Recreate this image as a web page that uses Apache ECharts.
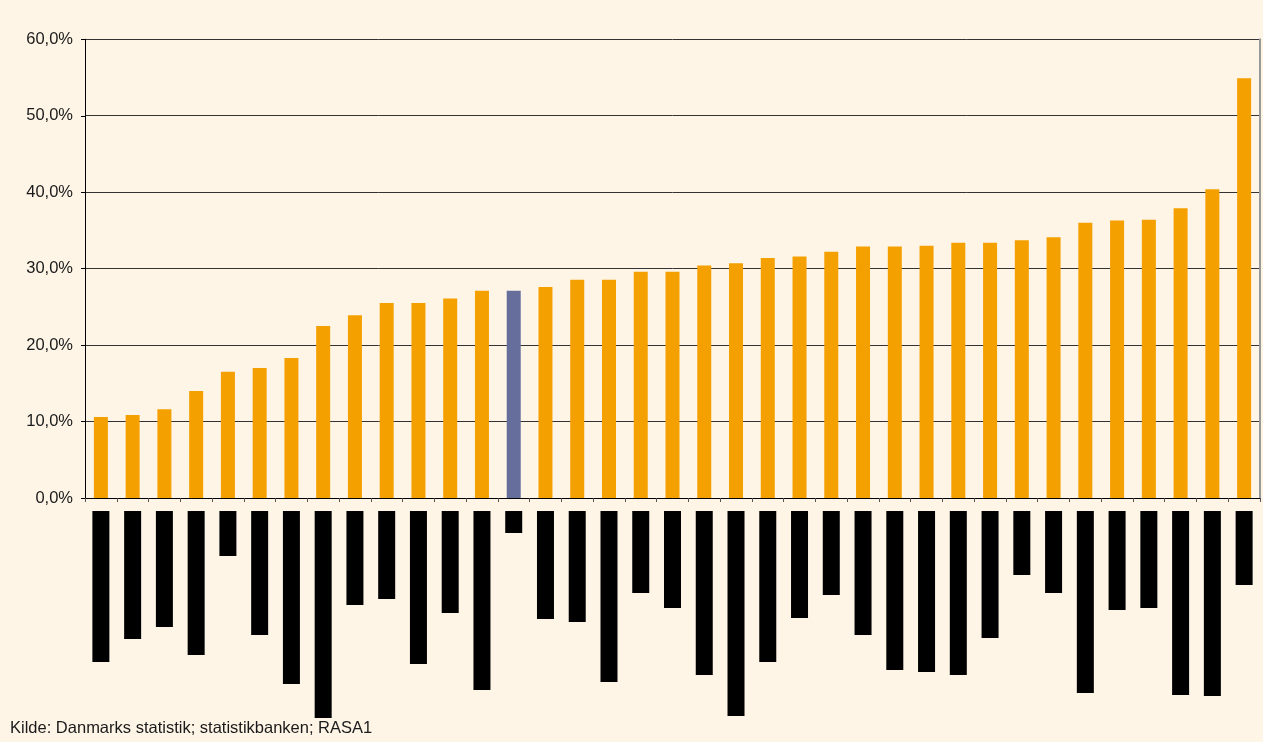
<!DOCTYPE html>
<html>
<head>
<meta charset="utf-8">
<title>Andel</title>
<script src="https://cdn.jsdelivr.net/npm/echarts@6/dist/echarts.min.js"></script>
<style>
  html, body { margin: 0; padding: 0; background: #fef5e7; }
  #main { width: 1263px; height: 742px; }
</style>
</head>
<body>
<div id="main"></div>
<script>
// andele (%), sorteret stigende
var vaerdier = [10.6, 10.85, 11.6, 14.0, 16.5, 17.0, 18.3, 22.5, 23.9, 25.5, 25.5, 26.1, 27.1,
  27.1, 27.6, 28.55, 28.55, 29.6, 29.6, 30.4, 30.7, 31.4, 31.6, 32.2, 32.9, 32.9, 33.0, 33.4,
  33.4, 33.7, 34.1, 36.0, 36.3, 36.4, 37.9, 40.4, 54.9];
// den fremhævede søjle (blå)
var fremhaevet = 13;
// kategorinavnene er sløret i figuren: længden af hver sort boks
var slorLaengde = [151, 128, 116, 144, 45, 124, 173, 207, 94, 88, 153, 102, 179, 22, 108, 111,
  171, 82, 97, 164, 205, 151, 107, 84, 124, 159, 161, 164, 127, 64, 82, 182, 99, 97, 184, 185, 74];
var yTicks = [0, 10, 20, 30, 40, 50, 60];
var kilde = 'Kilde: Danmarks statistik; statistikbanken; RASA1';

var kategorier = vaerdier.map(function (v, i) { return 'k' + i; });
var rich = {};
slorLaengde.forEach(function (l, i) {
  rich['r' + i] = { width: l, height: 17, backgroundColor: '#000', color: '#000', fontSize: 10 };
});

var chart = echarts.init(document.getElementById('main'));
chart.setOption({
  backgroundColor: '#fef5e7',
  animation: false,
  grid: { left: 85, right: 3, top: 39.3, bottom: 244 },
  xAxis: {
    type: 'category',
    data: kategorier,
    axisLine: { lineStyle: { color: '#000', width: 1 } },
    axisTick: { show: true, length: 4, lineStyle: { color: '#555' } },
    axisLabel: {
      interval: 0,
      rotate: 90,
      margin: 13,
      formatter: function (v, i) { return '{r' + i + '| }'; },
      rich: rich
    }
  },
  yAxis: [{
    type: 'value',
    min: yTicks[0],
    max: yTicks[yTicks.length - 1],
    interval: 10,
    axisLine: { show: true, lineStyle: { color: '#000' } },
    axisTick: { show: true, length: 4, lineStyle: { color: '#000' } },
    axisLabel: {
      margin: 12,
      color: '#1a1a1a',
      fontFamily: 'Liberation Sans, Arial, sans-serif',
      fontSize: 16.5,
      formatter: function (v) { return v.toFixed(1).replace('.', ',') + '%'; }
    },
    splitLine: { show: true, lineStyle: { color: '#333', width: 1 } }
  }, {
    type: 'value',
    position: 'right',
    min: 0, max: 60,
    axisLine: { show: true, lineStyle: { color: '#999', width: 2 } },
    axisTick: { show: false },
    axisLabel: { show: false },
    splitLine: { show: false }
  }],
  series: [{
    type: 'bar',
    barWidth: 14,
    data: vaerdier.map(function (v, i) {
      return i === fremhaevet ? { value: v, itemStyle: { color: '#666e9c' } } : v;
    }),
    itemStyle: { color: '#f4a000' }
  }],
  graphic: [{
    type: 'text',
    left: 10,
    top: 720,
    style: {
      text: kilde,
      fill: '#1a1a1a',
      font: '16.5px "Liberation Sans", Arial, sans-serif'
    }
  }]
});
</script>
</body>
</html>
